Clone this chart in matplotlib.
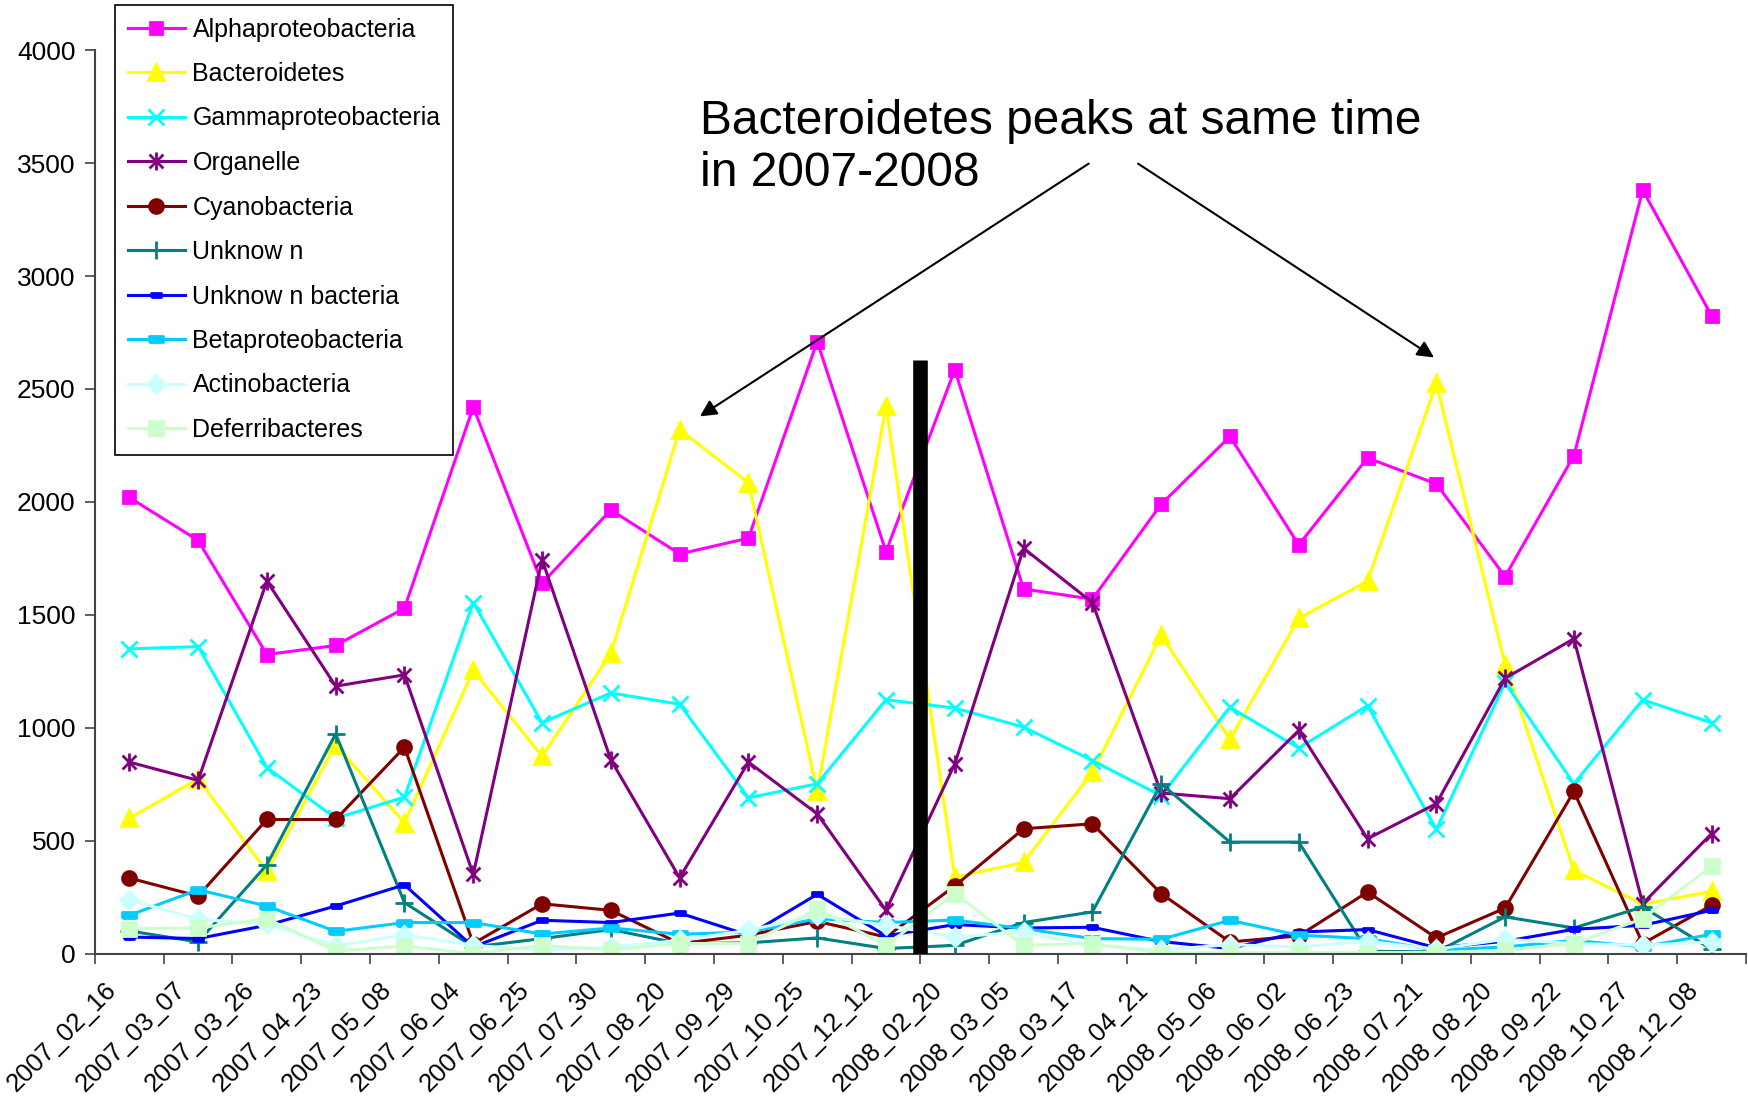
import numpy as np
import matplotlib
matplotlib.use("Agg")
from matplotlib import pyplot as plt
from matplotlib.path import Path
from matplotlib.transforms import ScaledTranslation

plt.rcParams['font.family'] = ['Liberation Sans', 'DejaVu Sans']

# sampling dates (x categories)
dates = ["2007_02_16", "2007_03_07", "2007_03_26", "2007_04_23", "2007_05_08", "2007_06_04",
         "2007_06_25", "2007_07_30", "2007_08_20", "2007_09_29", "2007_10_25", "2007_12_12",
         "2008_02_20", "2008_03_05", "2008_03_17", "2008_04_21", "2008_05_06", "2008_06_02",
         "2008_06_23", "2008_07_21", "2008_08_20", "2008_09_22", "2008_10_27", "2008_12_08"]

# counts per group
alpha = [2020, 1830, 1325, 1365, 1530, 2420, 1640, 1965, 1770, 1840, 2710, 1780,
         2585, 1615, 1570, 1990, 2290, 1810, 2195, 2080, 1670, 2205, 3380, 2825]
bacteroidetes = [600, 775, 365, 925, 580, 1255, 875, 1330, 2320, 2085, 720, 2425,
                 340, 405, 805, 1410, 950, 1485, 1650, 2525, 1280, 370, 220, 277]
gamma = [1350, 1360, 825, 600, 694, 1555, 1023, 1155, 1105, 691, 753, 1125,
         1088, 1004, 856, 700, 1092, 911, 1099, 551, 1200, 753, 1125, 1023]
organelle = [849, 768, 1650, 1185, 1235, 352, 1745, 859, 337, 849, 620, 193,
             841, 1795, 1555, 712, 687, 989, 510, 665, 1220, 1395, 223, 532]
cyano = [336, 256, 595, 595, 915, 46, 222, 193, 46, 83, 144, 75,
         301, 554, 576, 267, 53, 80, 274, 71, 203, 719, 46, 215]
unknown = [102, 53, 395, 974, 227, 31, 68, 108, 46, 49, 71, 24,
           38, 139, 186, 753, 495, 495, 12, 9, 164, 115, 208, 21]
unknown_bact = [75, 68, 127, 212, 306, 31, 149, 139, 181, 83, 264, 80,
                130, 115, 118, 55, 24, 97, 108, 27, 56, 109, 127, 193]
beta = [171, 284, 212, 100, 139, 139, 88, 115, 87, 97, 156, 139,
        150, 112, 68, 65, 149, 83, 68, 16, 31, 60, 31, 87]
actino = [240, 153, 133, 35, 85, 38, 16, 30, 60, 105, 171, 127,
          75, 97, 38, 18, 41, 31, 56, 21, 65, 46, 38, 53]
deferri = [112, 115, 156, 13, 35, 1, 38, 18, 46, 46, 197, 38,
           267, 38, 46, 5, 6, 6, 6, 6, 16, 46, 156, 388]

# excel-like star marker: an x with a vertical stroke
star = Path([(-1, -1), (1, 1), (-1, 1), (1, -1), (0, -1.3), (0, 1.3)],
            [Path.MOVETO, Path.LINETO, Path.MOVETO, Path.LINETO, Path.MOVETO, Path.LINETO])
dash = [(-1, -0.45), (1, -0.45), (1, 0.45), (-1, 0.45), (-1, -0.45)]

series = [
    ("Alphaproteobacteria", alpha, "#FF00FF", "s", 9),
    ("Bacteroidetes", bacteroidetes, "#FFFF00", "^", 11),
    ("Gammaproteobacteria", gamma, "#00FFFF", "x", 11),
    ("Organelle", organelle, "#800080", star, 13),
    ("Cyanobacteria", cyano, "#800000", "o", 10),
    ("Unknow n", unknown, "#008080", "+", 13),
    ("Unknow n bacteria", unknown_bact, "#0000FF", dash, 7),
    ("Betaproteobacteria", beta, "#00CCFF", dash, 10),
    ("Actinobacteria", actino, "#CCFFFF", "D", 9),
    ("Deferribacteres", deferri, "#CCFFCC", "s", 10),
]

fig = plt.figure(figsize=(17.48, 10.97), dpi=100)
ax = fig.add_axes([0.0543, 0.1304, 0.9445, 0.824])

x = np.arange(len(dates))
for name, vals, col, mk, ms in series:
    ax.plot(x, vals, color=col, lw=2.2, marker=mk, markersize=ms,
            markerfacecolor=col, markeredgecolor=col, markeredgewidth=2, label=name)

# divider between the two sampling years
ax.plot([11.5, 11.5], [0, 2630], color="black", lw=10.5, solid_capstyle="butt", zorder=5)

ax.set_xlim(-0.5, len(dates) - 0.5)
ax.set_ylim(0, 4000)
ax.set_yticks(np.arange(0, 4001, 500))
ax.set_xticks(x)
ax.set_xticks(np.arange(-0.5, len(dates)), minor=True)
ax.tick_params(axis="x", which="major", length=0, pad=14)
ax.tick_params(axis="x", which="minor", length=7, width=1.2, color="#444444")
ax.tick_params(axis="y", length=7, width=1.2, color="#444444", labelsize=19, pad=7)
ax.set_xticklabels(dates, rotation=45, ha="right", rotation_mode="anchor", fontsize=18.5)
# nudge the slanted date labels so they end left of the point they name
shift = ScaledTranslation(-0.25, -0.04, fig.dpi_scale_trans)
for lab in ax.get_xticklabels():
    lab.set_transform(lab.get_transform() + shift)
for s in ["top", "right"]:
    ax.spines[s].set_visible(False)
for s in ["left", "bottom"]:
    ax.spines[s].set_color("#444444")
    ax.spines[s].set_linewidth(1.5)

ax.text(8.29, 3570, "Bacteroidetes peaks at same time\nin 2007-2008", fontsize=34.5,
        ha="left", va="center", linespacing=1.2)
ax.annotate("", xy=(8.26, 2372), xytext=(13.98, 3504),
            arrowprops=dict(arrowstyle="-|>", color="black", lw=1.5, mutation_scale=25))
ax.annotate("", xy=(19.0, 2633), xytext=(14.63, 3504),
            arrowprops=dict(arrowstyle="-|>", color="black", lw=1.5, mutation_scale=25))

leg = ax.legend(loc="upper left", bbox_to_anchor=(115 / 1748, 1 - 5 / 1097),
                bbox_transform=fig.transFigure, borderaxespad=0, fontsize=18,
                handlelength=2.3, handletextpad=0.3, labelspacing=0.82,
                fancybox=False, framealpha=1, edgecolor="black", borderpad=0.5)
leg.get_frame().set_linewidth(1.2)

fig.savefig("out.png", dpi=100)
